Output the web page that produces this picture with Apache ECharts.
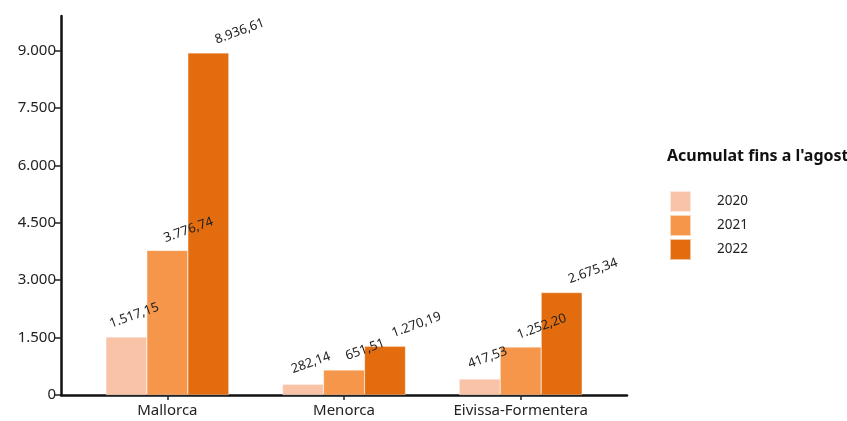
<!DOCTYPE html>
<html><head><meta charset="utf-8">
<script src="https://cdn.jsdelivr.net/npm/echarts@6/dist/echarts.min.js"></script>
<style>html,body{margin:0;padding:0;background:#fff}#c{width:847px;height:421px}</style>
</head><body><div id="c"></div>
<script>
const categories = ['Mallorca', 'Menorca', 'Eivissa-Formentera'];
const seriesNames = ['2020', '2021', '2022'];
const v2020 = [1517.15, 282.14, 417.53];
const v2021 = [3776.74, 651.51, 1252.20];
const v2022 = [8936.61, 1270.19, 2675.34];
const colors = ['#f9c3a8', '#f5964a', '#e36c0e'];
const legendTitle = "Acumulat fins a l'agost";

function fmt(v, dec) {
  const parts = v.toFixed(dec).split('.');
  const intp = parts[0].replace(/\B(?=(\d{3})+(?!\d))/g, '.');
  return parts.length > 1 ? intp + ',' + parts[1] : intp;
}
const FONT = "'Noto Sans', 'Open Sans', sans-serif";
const values = [v2020, v2021, v2022];
const labelOffsets = [[14.7, -10.9], [26.9, -5.5], [36.9, -3]];
const chart = echarts.init(document.getElementById('c'));
chart.setOption({
  animation: false,
  textStyle: { fontFamily: FONT },
  grid: [
    { left: 79, right: 238, top: 16, bottom: 26 },
    { left: 61, right: 220, top: 16, bottom: 26 }
  ],
  xAxis: [
    { type: 'category', data: categories, gridIndex: 0,
      axisLine: { show: false },
      axisTick: { show: true, alignWithLabel: true, length: 5, lineStyle: { color: '#222', width: 1.5 } },
      axisLabel: { interval: 0, color: '#222', fontSize: 15, margin: 8, fontFamily: FONT } },
    { type: 'value', gridIndex: 1, min: 0, max: 1, show: true,
      axisLine: { show: true, lineStyle: { color: '#111', width: 2.5 } },
      axisTick: { show: false }, axisLabel: { show: false }, splitLine: { show: false } }
  ],
  yAxis: [
    { type: 'value', gridIndex: 0, min: 0, max: 9900, interval: 1500, offset: 18,
      axisLine: { show: true, lineStyle: { color: '#111', width: 2.5 } },
      axisTick: { show: true, length: 6, lineStyle: { color: '#222', width: 1.5 } },
      axisLabel: { showMaxLabel: false, color: '#222', fontSize: 15, margin: 5, fontFamily: FONT,
        formatter: v => fmt(v, 0) },
      splitLine: { show: false } },
    { type: 'value', gridIndex: 1, show: false }
  ],
  legend: {
    orient: 'vertical', left: 669, top: 190, padding: 0, itemWidth: 21, itemHeight: 21, itemGap: 1,
    icon: 'rect', data: seriesNames,
    textStyle: { color: '#222', fontSize: 13.5, lineHeight: 16, padding: [0, 0, 0, 21], fontFamily: FONT }
  },
  graphic: [
    { type: 'text', left: 667, top: 148,
      style: { text: legendTitle, fontSize: 16, fontWeight: 'bold', fill: '#111', fontFamily: FONT } }
  ],
  series: seriesNames.map((n, i) => ({
    name: n, type: 'bar', xAxisIndex: 0, yAxisIndex: 0,
    data: values[i], barWidth: 41, barGap: '0%',
    itemStyle: { color: colors[i], borderColor: 'rgba(255,255,255,0.6)', borderWidth: 0.5 },
    label: { show: true, position: 'top', rotate: 20, distance: 0, offset: labelOffsets[i],
      align: 'center', verticalAlign: 'bottom',
      color: '#222', fontSize: 13, fontFamily: FONT,
      formatter: p => fmt(p.value, 2) }
  }))
});
</script></body></html>
